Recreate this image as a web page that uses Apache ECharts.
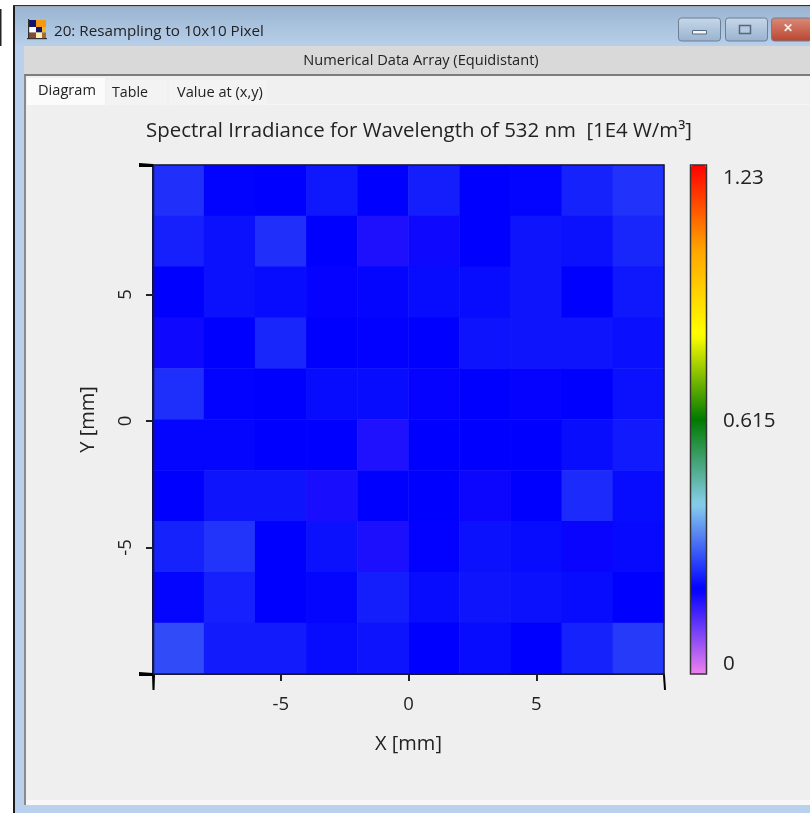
<!DOCTYPE html>
<html>
<head>
<meta charset="utf-8">
<style>html,body{margin:0;padding:0;background:#fff;overflow:hidden}#c{width:810px;height:813px}</style>
<script src="https://cdn.jsdelivr.net/npm/echarts@6/dist/echarts.min.js"></script>
</head>
<body>
<div id="c"></div>
<script>
const xCells = ['-9','-7','-5','-3','-1','1','3','5','7','9'];
const yCells = ['9','7','5','3','1','-1','-3','-5','-7','-9'];
const row1  = [.253,.208,.205,.228,.205,.235,.205,.209,.239,.255];
const row2  = [.237,.221,.253,.205,.179,.192,.205,.226,.221,.242];
const row3  = [.205,.221,.216,.201,.210,.216,.216,.226,.205,.228];
const row4  = [.192,.205,.242,.205,.203,.205,.224,.226,.226,.220];
const row5  = [.251,.207,.205,.216,.216,.201,.205,.201,.205,.221];
const row6  = [.210,.210,.205,.205,.178,.205,.205,.205,.218,.231];
const row7  = [.205,.226,.226,.184,.205,.205,.195,.205,.248,.216];
const row8  = [.239,.256,.205,.221,.181,.203,.221,.216,.198,.214];
const row9  = [.210,.237,.205,.210,.235,.216,.226,.221,.216,.205];
const row10 = [.280,.232,.232,.216,.224,.205,.216,.205,.239,.263];
const rows = [row1,row2,row3,row4,row5,row6,row7,row8,row9,row10];
const tickValues = [-5,0,5];
const scaleColors = ['#ee82ee','#0000ff','#87ceeb','#007a00','#ffff00','#ffa500','#ff0000'];
const scaleMin = 0, scaleMid = 0.615, scaleMax = 1.23;
const titleText = 'Spectral Irradiance for Wavelength of 532 nm  [1E4 W/m³]';

const font = '"Open Sans","Noto Sans",sans-serif';
const cells = [];
rows.forEach((r, j) => r.forEach((v, i) => cells.push([i, j, v])));

const rect = (x, y, w, h, fill, extra) => Object.assign({type:'rect', shape:{x,y,width:w,height:h}, style:{fill}, z:-10, silent:true}, extra||{});
const txt = (x, y, text, size, extra, fill) => Object.assign({type:'text', x, y, style:Object.assign({text, fill:fill||'#222', font:size+'px '+font, textVerticalAlign:'middle'}, extra||{}), z:5, silent:true});
const grad = (a, b) => new echarts.graphic.LinearGradient(0,0,0,1,[{offset:0,color:a},{offset:1,color:b}]);
const tri = (pts) => ({type:'polygon', shape:{points:pts}, style:{fill:'#000'}, z:5, silent:true});
const btn = (x, w, a, b) => ({type:'rect', shape:{x,y:18,width:w,height:23,r:3}, style:{fill:grad(a,b), stroke:'#6f7f92', lineWidth:1}, z:-5, silent:true});

const iconParts = [
 [29,20,7,7,'#14146e'],[36,20,10,7,'#f59a10'],
 [29,27,7,5.5,'#ffffff'],[36,27,6,5.5,'#14146e'],[42,27,4,5.5,'#f0b828'],
 [29,32.5,7,5.5,'#8a4a30'],[36,32.5,6,5.5,'#fff0b0'],[42,32.5,4,5.5,'#a86a30'],
 [28,19,1.2,20,'#333'],[27,38,20,1.2,'#333']
];
const icon = iconParts.map(p => rect(p[0],p[1],p[2],p[3],p[4],{z:-4}));

const chart = echarts.init(document.getElementById('c'), null, {renderer:'canvas'});
chart.setOption({
  animation:false,
  backgroundColor:'#ffffff',
  grid:{left:153, top:165, width:511, height:509, containLabel:false},
  xAxis:[
    {type:'category', data:xCells, show:false, boundaryGap:true},
    {type:'value', min:-10, max:10, position:'bottom',
     axisLine:{show:true, onZero:false, lineStyle:{color:'#111', width:2}},
     axisTick:{show:true, length:7, customValues:tickValues, lineStyle:{color:'#222', width:2}},
     splitLine:{show:false},
     axisLabel:{color:'#222', fontFamily:font, fontSize:18.5, margin:21, customValues:tickValues},
     name:'X [mm]', nameLocation:'middle', nameGap:60, nameTextStyle:{color:'#222', fontFamily:font, fontSize:20}}
  ],
  yAxis:[
    {type:'category', data:yCells, show:false, inverse:true, boundaryGap:true},
    {type:'value', min:-10, max:10.12, position:'left',
     axisLine:{show:true, onZero:false, lineStyle:{color:'#111', width:2}},
     axisTick:{show:true, length:7, customValues:tickValues, lineStyle:{color:'#222', width:2}},
     splitLine:{show:false},
     axisLabel:{color:'#222', fontFamily:font, fontSize:18.5, margin:18, rotate:90, customValues:tickValues},
     name:'Y [mm]', nameLocation:'middle', nameGap:55, nameRotate:90, nameTextStyle:{color:'#222', fontFamily:font, fontSize:20}}
  ],
  visualMap:{
    type:'continuous', min:scaleMin, max:scaleMax, calculable:false, realtime:false, seriesIndex:0,
    orient:'vertical', left:691, top:165, itemWidth:15, itemHeight:509, padding:0,
    showLabel:false, text:['',''],
    handleStyle:{opacity:0}, indicatorStyle:{opacity:0},
    inRange:{color:scaleColors}
  },
  series:[{
    type:'heatmap', xAxisIndex:0, yAxisIndex:0, data:cells,
    itemStyle:{borderWidth:0}, emphasis:{disabled:true}, progressive:0
  }],
  graphic:{elements:[
    rect(0,0,810,813,'#ffffff'),
    rect(0,9,1.5,37,'#222'),
    rect(13,5,2,808,'#1c1c1c'),
    rect(13,5,797,1.5,'#333'),
    rect(15,6.5,795,40,'#000',{style:{fill:grad('#9ab4d1','#b8d0ea')}}),
    rect(15,46,795,767,'#b9d1ec'),
    rect(24,46,786,29,'#d9d9d9'),
    rect(24,74,786,2,'#7d7d7d'),
    rect(24,76,2,729,'#8a8a8a'),
    rect(26,76,784,729,'#f0f0f0'),
    rect(26,800,784,5,'#f7f7f7'),
    rect(32,104,778,696,'#efefef'),
    rect(32,104,778,1,'#f6f6f6'),
    rect(27,78,78,27,'#fbfbfb'),
    rect(106,80,61,25,'#f3f3f3'),
    rect(169,80,98,25,'#f3f3f3'),
    ...icon,
    btn(678.5,42,'#c7d8ea','#98b2ce'),
    btn(725.5,42,'#c7d8ea','#98b2ce'),
    btn(771.5,40,'#dc8a78','#b8452f'),
    rect(692.5,30.5,14,3.5,'#f2f4f7',{z:-3,style:{fill:'#f2f4f7',stroke:'#5a6a80',lineWidth:1}}),
    rect(739.5,25.5,11,8,'#b6c9de',{z:-3,style:{fill:'#b6c9de',stroke:'#56667c',lineWidth:1.5}}),
    txt(783,29,'✕',17,{fontWeight:'bold',textAlign:'left'},'#f4ecea'),
    txt(54,32,'20: Resampling to 10x10 Pixel',15.2),
    txt(421,61,'Numerical Data Array (Equidistant)',14.6,{textAlign:'center'}),
    txt(38,91,'Diagram',14.6),
    txt(112,93,'Table',14.2),
    txt(177,93,'Value at (x,y)',14.6),
    txt(419,131,titleText,20.4,{textAlign:'center'}),
    txt(723,178.5,String(scaleMax),20.6),
    txt(723,421.5,String(scaleMid),20.6),
    txt(723,664.5,String(scaleMin),20.6),
    {type:'rect', shape:{x:153.5,y:165,width:510.5,height:509}, style:{fill:'none',stroke:'#1a1a2a',lineWidth:1.5}, z:5, silent:true},
    {type:'rect', shape:{x:690.5,y:165,width:16,height:509}, style:{fill:'none',stroke:'#333',lineWidth:1.5}, z:5, silent:true},
    tri([[139,163],[153,164],[153,167],[139,167]]),
    tri([[139,672],[153,673],[153,676],[139,676]]),
    tri([[152,675],[155,675],[154.5,690],[152.5,690]]),
    tri([[663,675],[665,675],[666,690],[664,690]])
  ]}
});
</script>
</body>
</html>
